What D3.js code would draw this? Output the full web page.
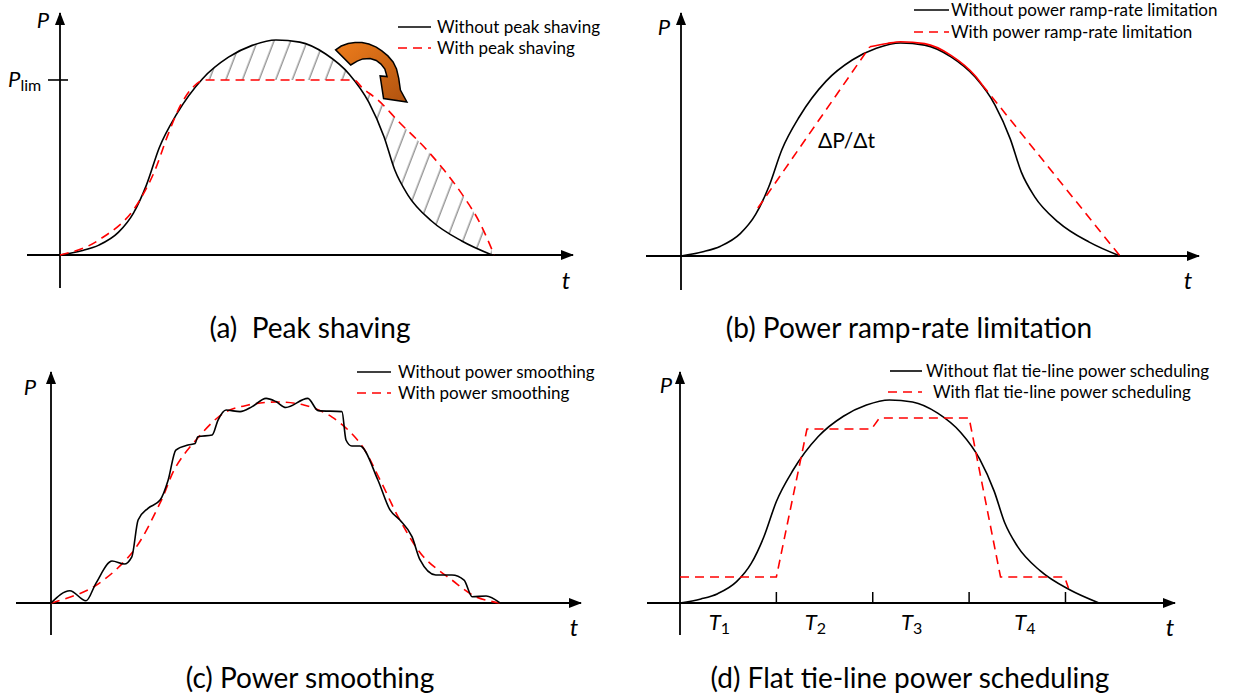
<!DOCTYPE html>
<html>
<head>
<meta charset="utf-8">
<script src="https://cdnjs.cloudflare.com/ajax/libs/d3/7.8.5/d3.min.js"></script>
<style>
  body { margin: 0; background: #ffffff; }
  svg { display: block; font-family: Lato, "Open Sans", sans-serif; }
</style>
</head>
<body>
<div id="fig"></div>
<script>
// t and P are in % of the curve span / the curve peak
// load profile without control, shared by panels a, b and d
let loadT = [0, 5, 9, 13.5, 17, 20, 23, 27, 33, 39, 44.5, 50, 55.5, 61.5, 67, 71.5, 75, 77.5, 80.5, 86, 93, 100];
let loadP = [0, 2, 4.6, 10.5, 19.5, 32.5, 50, 65.5, 82, 92, 97.5, 100, 99, 93.5, 84, 71, 55, 39.5, 28, 15.8, 6.5, 0];

// (a) peak shaving
let pLim = 81.4;
let shaveT = [0, 9, 18.5, 22, 25, 28, 31, 33.5, 50, 68, 70, 73.6, 78.7, 84.3, 88.9, 93.5, 97.2, 100.5];
let shaveP = [0, 7, 25.6, 39.5, 56, 70, 78.5, 81.4, 81.4, 81.4, 77.7, 72.1, 61.4, 50.2, 39.5, 27, 14.9, 0];
let arrowT = [63.8, 65.1, 66.7, 68.3, 69.9, 71.5, 73.2, 74.5, 75.9, 77.1, 77.9, 78.4, 78.8, 80.3,
              74.9, 74.1, 75.7, 75.2, 74.3, 73.2, 71.8, 70.1, 68.8, 67.3];
let arrowP = [95.4, 97.2, 98.4, 98.8, 98.8, 98.1, 96.7, 94.9, 92.6, 89.8, 86.5, 82.3, 76.7, 71.2,
              72.8, 83.3, 83.0, 86.5, 88.8, 90.5, 91.4, 91.2, 90.2, 88.4];

// (b) ramp-rate limitation
let rampUpT = [17.5, 43];
let rampUpP = [22.5, 98.2];
let rampArcT = [43, 47, 50, 55.5, 61.5, 67, 68.6];
let rampArcP = [98.2, 99.8, 100.6, 99.7, 94.2, 84.6, 80.4];
let rampDownT = [68.6, 100];
let rampDownP = [80.4, 0];

// (c) power smoothing
let rawT = [0, 4.2, 7.8, 10, 13.6, 16.3, 18, 19.4, 21.6, 24.3, 26.1, 27.8, 30.5, 32.1, 32.7, 35.9, 37.2, 39,
            42.1, 44.8, 47.9, 50.1, 52.3, 57.2, 59.5, 64.8, 65.7, 67, 68.8, 72.8, 75.5, 77.7, 80.4, 82.2,
            85.7, 89.3, 92, 93.8, 96.9, 100];
let rawP = [0, 6.1, 1.1, 9.8, 20.9, 19.4, 23, 41.3, 47.1, 51.2, 61.2, 76.1, 78.6, 79.4, 82.7, 83.6, 91, 96,
            95.2, 97.7, 101.8, 100.2, 97.3, 101.8, 95.7, 95.2, 81.1, 78.1, 78.1, 61.2, 46.3, 41.3, 33, 21.4,
            13.9, 13.9, 11.4, 3.1, 3.5, 0];
let smoothT = [0, 9.1, 18, 24.3, 27.8, 32.3, 38.5, 43.9, 50.1, 56.3, 62.6, 68.8, 73.3, 77.7, 83, 89.3, 94.7, 100];
let smoothP = [0, 7.5, 24.9, 49.8, 67.7, 81.1, 94.5, 98.5, 100, 98.5, 92.5, 79.6, 61.2, 41.3, 22.9, 11.4, 3, 0];

// (d) flat tie-line scheduling
let schedT = [0, 23, 30.3, 45.7, 47.6, 69, 76.5, 91.8, 92.7];
let schedP = [12.8, 12.8, 85.7, 85.7, 91.1, 91.1, 12.8, 12.8, 7.4];
let periodTicks = [23, 46, 69, 92];
let periodLabelT = [9.4, 32.3, 55.3, 82.3];
let periodNames = ['1', '2', '3', '4'];

let legendA = ['Without peak shaving', 'With peak shaving'];
let legendB = ['Without power ramp-rate limitation', 'With power ramp-rate limitation'];
let legendC = ['Without power smoothing', 'With power smoothing'];
let legendD = ['Without flat tie-line power scheduling', 'With flat tie-line power scheduling'];
let captions = ['(a)  Peak shaving', '(b) Power ramp-rate limitation', '(c) Power smoothing', '(d) Flat tie-line power scheduling'];

const RED = '#ff0000';
const DASH = '9,6';

let svg = d3.select('#fig').append('svg').attr('width', 1235).attr('height', 696);
let defs = svg.append('defs');

defs.append('marker')
    .attr('id', 'head')
    .attr('viewBox', '0 0 13 10')
    .attr('refX', 12).attr('refY', 5)
    .attr('markerWidth', 13).attr('markerHeight', 10)
    .attr('markerUnits', 'userSpaceOnUse')
    .attr('orient', 'auto')
    .append('path').attr('d', 'M0,0 L13,5 L0,10 Z').attr('fill', '#000');

let pts = (ts, ps) => ts.map((t, i) => [t, ps[i]]);

function get_scales(p) {
    return {
        x: d3.scaleLinear().domain([0, 100]).range([p.x0, p.x1]),
        y: d3.scaleLinear().domain([0, 100]).range([p.yb, p.yt])
    };
}

function draw_axes(g, p) {
    g.append('line').attr('x1', p.x0).attr('y1', p.ayB).attr('x2', p.x0).attr('y2', p.ayT)
        .attr('stroke', '#000').attr('stroke-width', 1.8).attr('marker-end', 'url(#head)');
    g.append('line').attr('x1', p.axL).attr('y1', p.yb).attr('x2', p.axR).attr('y2', p.yb)
        .attr('stroke', '#000').attr('stroke-width', 1.8).attr('marker-end', 'url(#head)');
    g.append('text').text('P').attr('x', p.pLab[0]).attr('y', p.pLab[1])
        .attr('text-anchor', 'middle').style('font-style', 'italic').style('font-size', '22px');
    g.append('text').text('t').attr('x', p.tLab[0]).attr('y', p.tLab[1])
        .attr('text-anchor', 'middle').style('font-style', 'italic').style('font-size', '24px');
}

function draw_legend(g, lg, labels) {
    [0, 1].forEach(i => {
        g.append('line')
            .attr('x1', lg.lx[0] - (i ? lg.redShift : 0)).attr('x2', lg.lx[1])
            .attr('y1', lg.ly[i]).attr('y2', lg.ly[i])
            .attr('stroke', i ? RED : '#000').attr('stroke-width', 1.6)
            .attr('stroke-dasharray', i ? DASH : null);
        g.append('text').text(labels[i])
            .attr('x', lg.tx[i]).attr('y', lg.ly[i]).attr('dy', '0.35em')
            .style('font-size', '17px');
    });
}

function line_gen(s, curve) {
    return d3.line().x(d => s.x(d[0])).y(d => s.y(d[1])).curve(curve);
}

function draw_curve(g, s, data, curve, color, dashed) {
    g.append('path')
        .attr('d', line_gen(s, curve)(data))
        .attr('fill', 'none')
        .attr('stroke', color)
        .attr('stroke-width', 1.6)
        .attr('stroke-dasharray', dashed ? DASH : null);
}

let blackCurve = d3.curveMonotoneX;

// ---------- panel a ----------
function draw_peak_shaving() {
    let p = {x0: 60, x1: 492, yb: 255, yt: 40, axL: 27, axR: 573, ayT: 13, ayB: 288,
             pLab: [43, 28], tLab: [566, 289]};
    let s = get_scales(p);
    let g = svg.append('g');
    let black = pts(loadT, loadP);
    let red = pts(shaveT, shaveP);

    // hatching between the two curves
    defs.append('pattern')
        .attr('id', 'hatch').attr('patternUnits', 'userSpaceOnUse')
        .attr('width', 15.5).attr('height', 20)
        .attr('patternTransform', 'rotate(21)')
        .append('line').attr('x1', 7).attr('x2', 7).attr('y1', 0).attr('y2', 20)
        .attr('stroke', '#8a8a8a').attr('stroke-width', 1.3);

    let areaOf = (data, curve, edge) => d3.area().x(d => s.x(d[0]))
        .y0(s.y(edge)).y1(d => s.y(d[1])).curve(curve)(data);
    let clips = [
        ['underBlack', areaOf(black, blackCurve, 0)],
        ['aboveBlack', areaOf(black, blackCurve, 130)],
        ['underRed', areaOf(red, d3.curveMonotoneX, 0)],
        ['aboveRed', areaOf(red, d3.curveMonotoneX, 130)]
    ];
    clips.forEach(c => defs.append('clipPath').attr('id', c[0]).append('path').attr('d', c[1]));

    let hatchBand = (outer, inner, t0, t1) => {
        g.append('g').attr('clip-path', `url(#${outer})`)
            .append('g').attr('clip-path', `url(#${inner})`)
            .append('rect')
            .attr('x', s.x(t0)).attr('width', s.x(t1) - s.x(t0))
            .attr('y', s.y(110)).attr('height', s.y(0) - s.y(110))
            .attr('fill', 'url(#hatch)');
    };
    hatchBand('underBlack', 'aboveRed', 32, 69.5);
    hatchBand('aboveBlack', 'underRed', 69, 101);

    draw_axes(g, p);
    draw_curve(g, s, black, blackCurve, '#000', false);
    draw_curve(g, s, red, d3.curveMonotoneX, RED, true);

    // P_lim tick and label
    g.append('line').attr('x1', p.x0 - 12).attr('x2', p.x0 + 8)
        .attr('y1', s.y(pLim)).attr('y2', s.y(pLim))
        .attr('stroke', '#000').attr('stroke-width', 1.6);
    let lim = g.append('text').attr('x', 8).attr('y', s.y(pLim) + 7);
    lim.append('tspan').text('P').style('font-style', 'italic').style('font-size', '22px');
    lim.append('tspan').text('lim').attr('dy', 4).style('font-size', '16px');

    // curved orange arrow
    let grad = defs.append('linearGradient').attr('id', 'orange')
        .attr('x1', '0%').attr('y1', '0%').attr('x2', '100%').attr('y2', '100%');
    grad.append('stop').attr('offset', '0%').attr('stop-color', '#ee7d1c');
    grad.append('stop').attr('offset', '100%').attr('stop-color', '#b0520f');
    g.append('path')
        .attr('d', line_gen(s, d3.curveLinearClosed)(pts(arrowT, arrowP)))
        .attr('fill', 'url(#orange)')
        .attr('stroke', '#000').attr('stroke-width', 1.5).attr('stroke-linejoin', 'miter');

    draw_legend(g, {lx: [398, 431], ly: [27, 48], tx: [437, 437], redShift: 0}, legendA);
}

// ---------- panel b ----------
function draw_ramp_rate() {
    let p = {x0: 681, x1: 1120, yb: 256, yt: 43, axL: 646, axR: 1199, ayT: 13, ayB: 290,
             pLab: [664, 35], tLab: [1188, 289]};
    let s = get_scales(p);
    let g = svg.append('g');
    draw_axes(g, p);
    draw_curve(g, s, pts(loadT, loadP), blackCurve, '#000', false);
    draw_curve(g, s, pts(rampUpT, rampUpP), d3.curveLinear, RED, true);
    draw_curve(g, s, pts(rampArcT, rampArcP), d3.curveMonotoneX, RED, false);
    draw_curve(g, s, pts(rampDownT, rampDownP), d3.curveLinear, RED, true);

    g.append('text').text('\u0394P/\u0394t')
        .attr('x', s.x(31.2)).attr('y', s.y(50.7))
        .style('font-size', '21px');

    draw_legend(g, {lx: [914, 949], ly: [10, 32], tx: [951, 951], redShift: 0}, legendB);
}

// ---------- panel c ----------
function draw_smoothing() {
    let p = {x0: 51, x1: 500, yb: 603, yt: 402, axL: 16, axR: 581, ayT: 372, ayB: 635,
             pLab: [30, 395], tLab: [574, 636]};
    let s = get_scales(p);
    let g = svg.append('g');
    draw_axes(g, p);
    draw_curve(g, s, pts(smoothT, smoothP), d3.curveCatmullRom.alpha(0.5), RED, true);
    draw_curve(g, s, pts(rawT, rawP), d3.curveMonotoneX, '#000', false);
    draw_legend(g, {lx: [357, 391], ly: [372, 393], tx: [398, 398], redShift: 0}, legendC);
}

// ---------- panel d ----------
function draw_scheduling() {
    let p = {x0: 680, x1: 1099, yb: 603, yt: 400, axL: 647, axR: 1175, ayT: 372, ayB: 635,
             pLab: [666, 393], tLab: [1170, 636]};
    let s = get_scales(p);
    let g = svg.append('g');
    draw_axes(g, p);
    draw_curve(g, s, pts(loadT, loadP), blackCurve, '#000', false);
    draw_curve(g, s, pts(schedT, schedP), d3.curveLinear, RED, true);

    g.selectAll('.tick').data(periodTicks).enter().append('line')
        .attr('x1', d => s.x(d)).attr('x2', d => s.x(d))
        .attr('y1', s.y(0)).attr('y2', s.y(0) - 11)
        .attr('stroke', '#000').attr('stroke-width', 1.5);

    let lab = g.selectAll('.period').data(periodLabelT).enter().append('text')
        .attr('x', d => s.x(d)).attr('y', s.y(0) + 27)
        .attr('text-anchor', 'middle');
    lab.append('tspan').text('T').style('font-style', 'italic').style('font-size', '22px');
    lab.append('tspan').text((d, i) => periodNames[i]).attr('dy', 4).style('font-size', '16px');

    draw_legend(g, {lx: [890, 922], ly: [371, 392], tx: [926, 933], redShift: 2}, legendD);
}

function draw_captions() {
    let pos = [[310, 338], [909, 338], [310, 688], [910, 688]];
    svg.selectAll('.caption').data(captions).enter().append('text')
        .attr('x', (d, i) => pos[i][0]).attr('y', (d, i) => pos[i][1])
        .attr('text-anchor', 'middle')
        .style('font-size', '28px').style('white-space', 'pre')
        .text(d => d);
}

draw_peak_shaving();
draw_ramp_rate();
draw_smoothing();
draw_scheduling();
draw_captions();
</script>
</body>
</html>
